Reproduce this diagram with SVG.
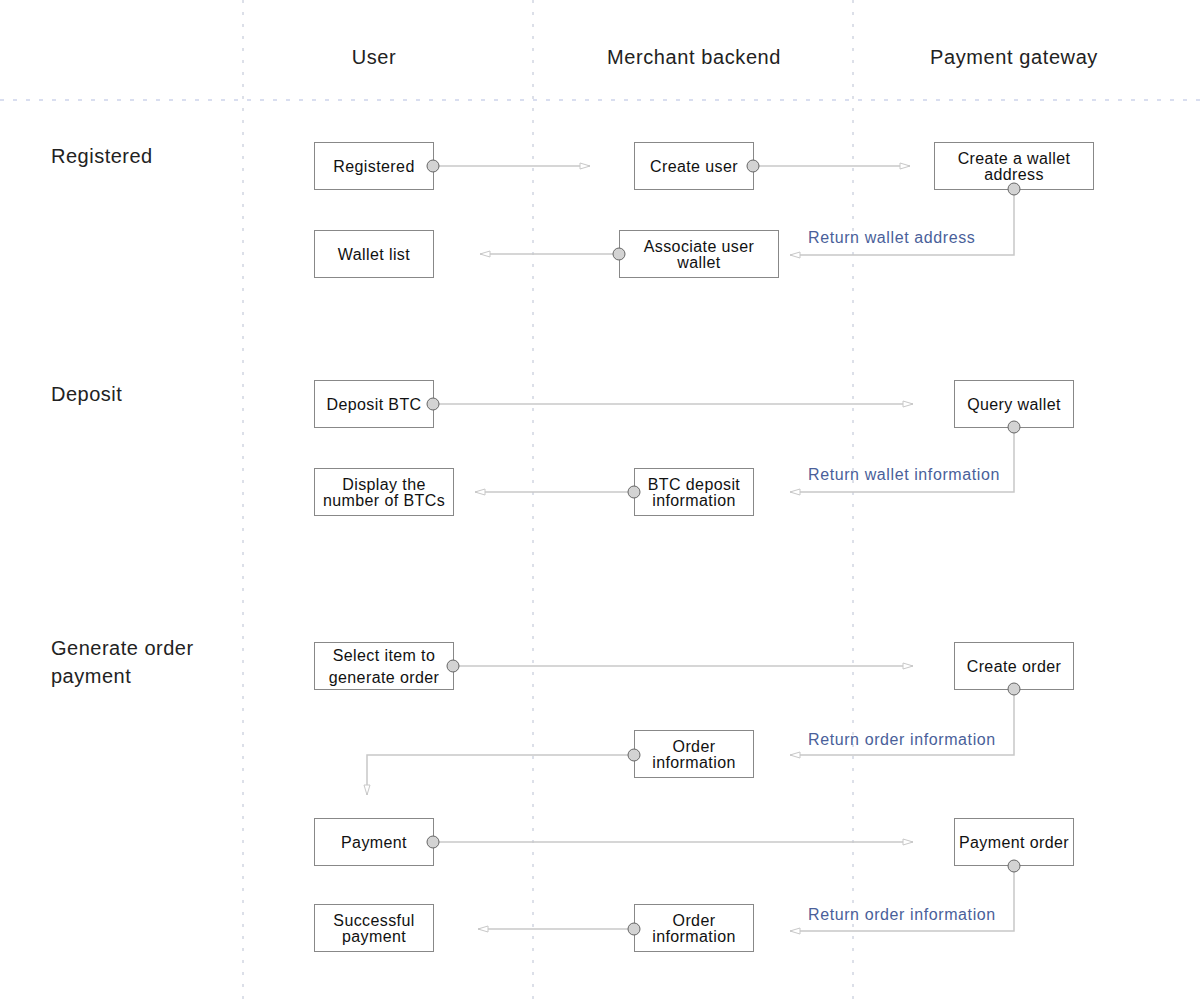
<svg xmlns="http://www.w3.org/2000/svg" width="1200" height="1000" viewBox="0 0 1200 1000">
<style>
.lane{stroke:#b9c0d2;stroke-width:1;stroke-dasharray:3,9}
.hlane{stroke:#b3bde0;stroke-width:1;stroke-dasharray:4,9}
.hdr{font-family:"Liberation Sans",Arial,sans-serif;font-size:20px;letter-spacing:0.6px;fill:#222;text-anchor:middle}
.sec{font-family:"Liberation Sans",Arial,sans-serif;font-size:20px;letter-spacing:0.5px;fill:#222}
.box{fill:#fff;stroke:#888;stroke-width:1}
.t{font-family:"Liberation Sans",Arial,sans-serif;font-size:16px;letter-spacing:0.4px;fill:#111;text-anchor:middle}
.ln{fill:none;stroke:#c8c8c8;stroke-width:1.5}
.dot{fill:#d3d3d3;stroke:#666;stroke-width:1}
.lbl{font-family:"Liberation Sans",Arial,sans-serif;font-size:16px;letter-spacing:0.6px;fill:#4a5f9a}
</style>
<defs>
<marker id="arr" viewBox="0 0 12 8" refX="11" refY="4" markerWidth="12" markerHeight="8" markerUnits="userSpaceOnUse" orient="auto">
<path d="M1,1 L11,4 L1,7 Z" fill="#fff" stroke="#c8c8c8" stroke-width="1"/>
</marker>
</defs>
<rect width="1200" height="1000" fill="#fff"/>
<g id="lanes">
<line class="lane" x1="243" y1="0" x2="243" y2="1000"/>
<line class="lane" x1="533" y1="0" x2="533" y2="1000"/>
<line class="lane" x1="853" y1="0" x2="853" y2="1000"/>
<line class="hlane" x1="0" y1="100" x2="1200" y2="100"/>
</g>
<g id="headers">
<text class="hdr" x="374" y="64">User</text>
<text class="hdr" x="694" y="64">Merchant backend</text>
<text class="hdr" x="1014" y="64">Payment gateway</text>
<text class="sec" x="51" y="163">Registered</text>
<text class="sec" x="51" y="401">Deposit</text>
<text class="sec" x="51" y="655">Generate order</text>
<text class="sec" x="51" y="683">payment</text>
</g>
<g id="connectors">
<line class="ln" x1="433" y1="166" x2="590" y2="166" marker-end="url(#arr)"/>
<line class="ln" x1="753" y1="166" x2="910" y2="166" marker-end="url(#arr)"/>
<polyline class="ln" points="1014,189 1014,255 790,255" marker-end="url(#arr)"/>
<line class="ln" x1="619" y1="254" x2="480" y2="254" marker-end="url(#arr)"/>
<line class="ln" x1="433" y1="404" x2="913" y2="404" marker-end="url(#arr)"/>
<polyline class="ln" points="1014,427 1014,492 790,492" marker-end="url(#arr)"/>
<line class="ln" x1="634" y1="492" x2="475" y2="492" marker-end="url(#arr)"/>
<line class="ln" x1="453" y1="666" x2="913" y2="666" marker-end="url(#arr)"/>
<polyline class="ln" points="1014,689 1014,755 790,755" marker-end="url(#arr)"/>
<polyline class="ln" points="634,755 367,755 367,795" marker-end="url(#arr)"/>
<line class="ln" x1="433" y1="842" x2="913" y2="842" marker-end="url(#arr)"/>
<polyline class="ln" points="1014,866 1014,931 790,931" marker-end="url(#arr)"/>
<line class="ln" x1="634" y1="929" x2="478" y2="929" marker-end="url(#arr)"/>
<text class="lbl" x="808" y="243">Return wallet address</text>
<text class="lbl" x="808" y="480">Return wallet information</text>
<text class="lbl" x="808" y="745">Return order information</text>
<text class="lbl" x="808" y="920">Return order information</text>
</g>
<g id="n-registered"><rect class="box" x="314.5" y="142.5" width="119" height="47"/><text class="t" x="374" y="172">Registered</text></g>
<g id="n-create-user"><rect class="box" x="634.5" y="142.5" width="119" height="47"/><text class="t" x="694" y="172">Create user</text></g>
<g id="n-create-wallet"><rect class="box" x="934.5" y="142.5" width="159" height="47"/><text class="t" x="1014" y="164">Create a wallet</text><text class="t" x="1014" y="180">address</text></g>
<g id="n-wallet-list"><rect class="box" x="314.5" y="230.5" width="119" height="47"/><text class="t" x="374" y="260">Wallet list</text></g>
<g id="n-assoc"><rect class="box" x="619.5" y="230.5" width="159" height="47"/><text class="t" x="699" y="252">Associate user</text><text class="t" x="699" y="268">wallet</text></g>
<g id="n-deposit"><rect class="box" x="314.5" y="380.5" width="119" height="47"/><text class="t" x="374" y="410">Deposit BTC</text></g>
<g id="n-query"><rect class="box" x="954.5" y="380.5" width="119" height="47"/><text class="t" x="1014" y="410">Query wallet</text></g>
<g id="n-display"><rect class="box" x="314.5" y="468.5" width="139" height="47"/><text class="t" x="384" y="490">Display the</text><text class="t" x="384" y="506">number of BTCs</text></g>
<g id="n-btcinfo"><rect class="box" x="634.5" y="468.5" width="119" height="47"/><text class="t" x="694" y="490">BTC deposit</text><text class="t" x="694" y="506">information</text></g>
<g id="n-select"><rect class="box" x="314.5" y="642.5" width="139" height="47"/><text class="t" x="384" y="661">Select item to</text><text class="t" x="384" y="683">generate order</text></g>
<g id="n-create-order"><rect class="box" x="954.5" y="642.5" width="119" height="47"/><text class="t" x="1014" y="672">Create order</text></g>
<g id="n-order-info1"><rect class="box" x="634.5" y="730.5" width="119" height="47"/><text class="t" x="694" y="752">Order</text><text class="t" x="694" y="768">information</text></g>
<g id="n-payment"><rect class="box" x="314.5" y="818.5" width="119" height="47"/><text class="t" x="374" y="848">Payment</text></g>
<g id="n-payment-order"><rect class="box" x="954.5" y="818.5" width="119" height="47"/><text class="t" x="1014" y="848">Payment order</text></g>
<g id="n-success"><rect class="box" x="314.5" y="904.5" width="119" height="47"/><text class="t" x="374" y="926">Successful</text><text class="t" x="374" y="942">payment</text></g>
<g id="n-order-info2"><rect class="box" x="634.5" y="904.5" width="119" height="47"/><text class="t" x="694" y="926">Order</text><text class="t" x="694" y="942">information</text></g>
<g id="dots">
<circle class="dot" cx="433" cy="166" r="6"/>
<circle class="dot" cx="753" cy="166" r="6"/>
<circle class="dot" cx="1014" cy="189" r="6"/>
<circle class="dot" cx="619" cy="254" r="6"/>
<circle class="dot" cx="433" cy="404" r="6"/>
<circle class="dot" cx="1014" cy="427" r="6"/>
<circle class="dot" cx="634" cy="492" r="6"/>
<circle class="dot" cx="453" cy="666" r="6"/>
<circle class="dot" cx="1014" cy="689" r="6"/>
<circle class="dot" cx="634" cy="755" r="6"/>
<circle class="dot" cx="433" cy="842" r="6"/>
<circle class="dot" cx="1014" cy="866" r="6"/>
<circle class="dot" cx="634" cy="929" r="6"/>
</g>
</svg>
